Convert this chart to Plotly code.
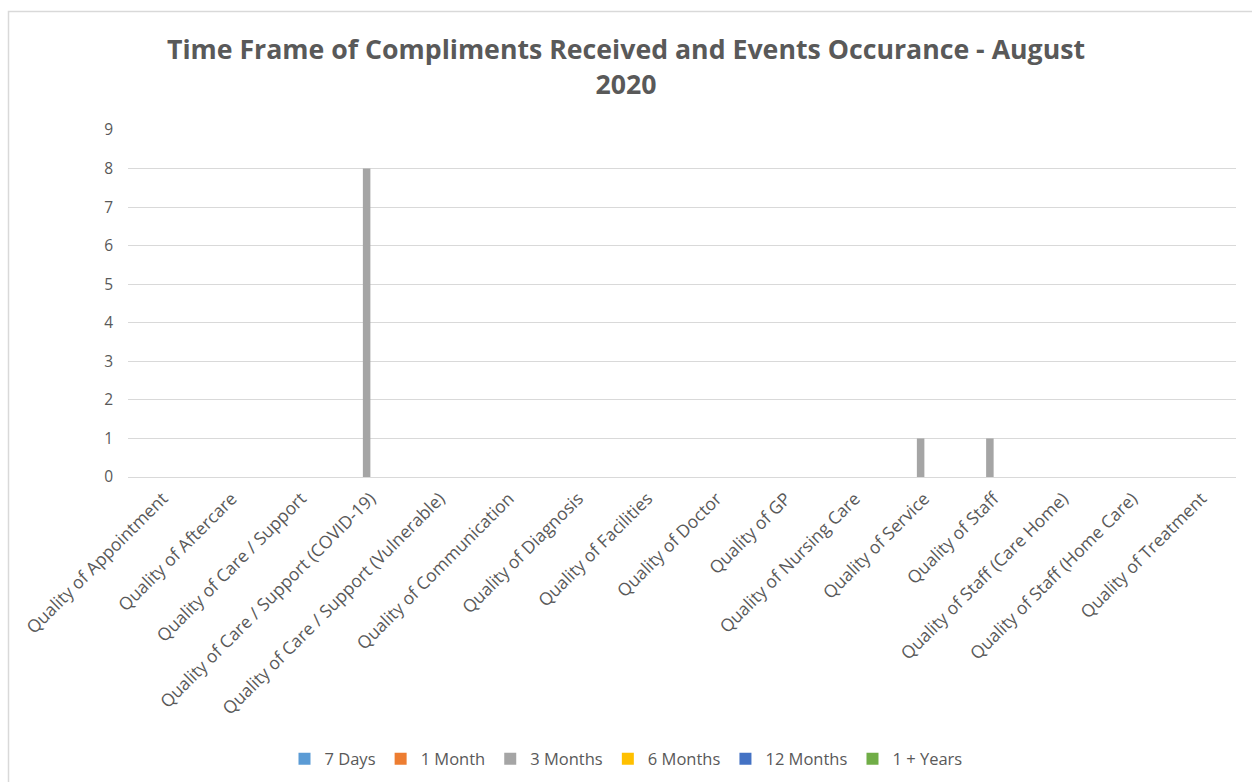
import plotly.graph_objects as go

categories = [
    "Quality of Appointment",
    "Quality of Aftercare",
    "Quality of Care / Support",
    "Quality of Care / Support (COVID-19)",
    "Quality of Care / Support (Vulnerable)",
    "Quality of Communication",
    "Quality of Diagnosis",
    "Quality of Facilities",
    "Quality of Doctor",
    "Quality of GP",
    "Quality of Nursing Care",
    "Quality of Service",
    "Quality of Staff",
    "Quality of Staff (Care Home)",
    "Quality of Staff (Home Care)",
    "Quality of Treatment",
]

series_names = ["7 Days", "1 Month", "3 Months", "6 Months", "12 Months", "1 + Years"]
series_colors = ["#5B9BD5", "#ED7D31", "#A5A5A5", "#FFC000", "#4472C4", "#70AD47"]

days_7 = [0] * 16
month_1 = [0] * 16
months_3 = [0, 0, 0, 8, 0, 0, 0, 0, 0, 0, 0, 1, 1, 0, 0, 0]
months_6 = [0] * 16
months_12 = [0] * 16
years_1_plus = [0] * 16

series_values = [days_7, month_1, months_3, months_6, months_12, years_1_plus]

y_ticks = list(range(0, 10))

FONT = "Open Sans"
TEXT = "#595959"
GRID = "#D9D9D9"

W, H = 1252, 782
ML, MR, MT, MB = 128, 16, 130, 305

fig = go.Figure()
for name, color, vals in zip(series_names, series_colors, series_values):
    fig.add_trace(go.Bar(name=name, x=categories, y=vals, marker_color=color,
                         marker_line_width=0))

pw = W - ML - MR
ph = H - MT - MB


def px_x(p):
    return (p - ML) / pw


def px_y(p):
    return (H - MB - p) / ph


fig.update_layout(
    width=W, height=H,
    margin=dict(l=ML, r=MR, t=MT, b=MB),
    paper_bgcolor="white", plot_bgcolor="white",
    barmode="group", bargap=0.35, bargroupgap=0,
    font=dict(family=FONT, color=TEXT, size=16),
    title=dict(
        text="<b>Time Frame of Compliments Received and Events Occurance - August<br>2020</b>",
        x=0.5, xanchor="center", xref="container",
        y=1 - 59 / H, yanchor="top", yref="container",
        font=dict(family=FONT, size=26.7, color=TEXT),
    ),
    xaxis=dict(
        tickangle=-45, showgrid=False, showline=False, zeroline=False,
        tickfont=dict(size=17.5, color=TEXT), ticklabelstandoff=7, automargin=False,
    ),
    yaxis=dict(
        range=[0, 9], tickvals=y_ticks, showgrid=True, gridcolor=GRID, gridwidth=1,
        zeroline=True, zerolinecolor=GRID, zerolinewidth=1, showline=False,
        tickfont=dict(size=15.5, color=TEXT), ticklabelstandoff=14, automargin=False,
    ),
    legend=dict(
        orientation="h", x=0.5, xanchor="center", xref="container",
        y=1 - 759 / H, yanchor="middle", yref="container",
        font=dict(size=16.5, color=TEXT), traceorder="normal",
    ),
    shapes=[dict(
        type="rect", xref="paper", yref="paper",
        x0=px_x(8.5), x1=px_x(1262), y0=px_y(800), y1=px_y(11.5),
        line=dict(color=GRID, width=1.5), fillcolor="rgba(0,0,0,0)", layer="below",
    )],
)

fig.write_html("out.html")
